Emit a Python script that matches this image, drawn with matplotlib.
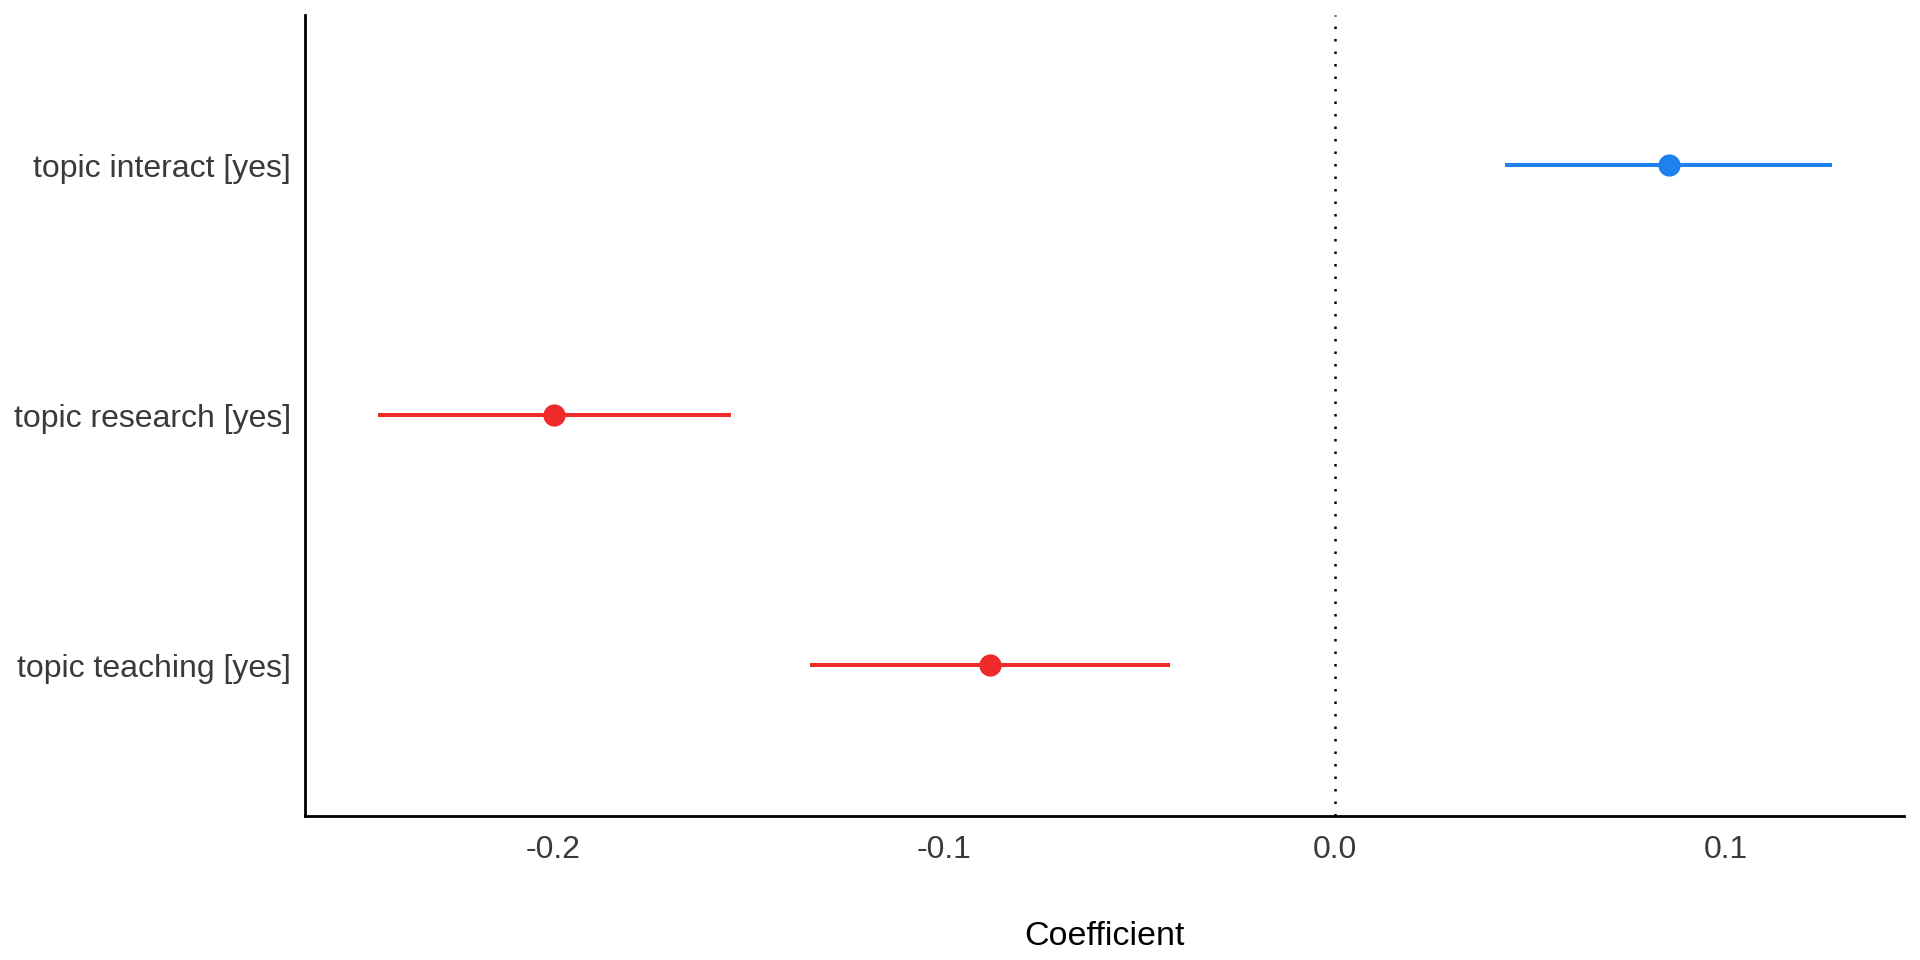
import matplotlib
matplotlib.use("Agg")
import matplotlib.pyplot as plt

terms = ["topic teaching [yes]", "topic research [yes]", "topic interact [yes]"]
estimates = [-0.0882, -0.1997, 0.0853]
ci_low = [-0.1344, -0.2448, 0.0435]
ci_high = [-0.0422, -0.1546, 0.1271]
xticks = [-0.2, -0.1, 0.0, 0.1]
xtick_labels = ["-0.2", "-0.1", "0.0", "0.1"]

BLUE = "#1F80EF"
RED = "#EE2A2A"

plt.rcParams['font.family'] = ['Liberation Sans', 'DejaVu Sans']

fig = plt.figure(figsize=(19.2, 9.6), dpi=100)
ax = fig.add_axes([0.1589, 0.1505, 0.9917 - 0.1589, 0.984 - 0.1505])

ax.axvline(0, color="black", lw=1.8, linestyle=(0, (1, 4)), zorder=1)

ypos = list(range(1, len(terms) + 1))
for y, est, lo, hi in zip(ypos, estimates, ci_low, ci_high):
    c = BLUE if est > 0 else RED
    ax.plot([lo, hi], [y, y], color=c, lw=2.9, solid_capstyle="butt", zorder=2)
    ax.plot([est], [y], marker="o", color=c, markersize=16, markeredgewidth=0, zorder=3)

ax.set_xlim(-0.2634, 0.1455)
ax.set_ylim(0.4, 3.6)
ax.set_yticks(ypos)
ax.set_yticklabels(terms)
ax.set_xticks(xticks)
ax.set_xticklabels(xtick_labels)
ax.tick_params(axis="both", length=0, labelsize=23, labelcolor="#3a3a3a")
ax.tick_params(axis="x", pad=14)
ax.tick_params(axis="y", pad=10)
for s in ["top", "right"]:
    ax.spines[s].set_visible(False)
for s in ["left", "bottom"]:
    ax.spines[s].set_linewidth(2)
    ax.spines[s].set_color("black")
ax.set_xlabel("Coefficient", fontsize=24.5, color="black", labelpad=40)

fig.savefig("out.png", dpi=100, facecolor="white")
